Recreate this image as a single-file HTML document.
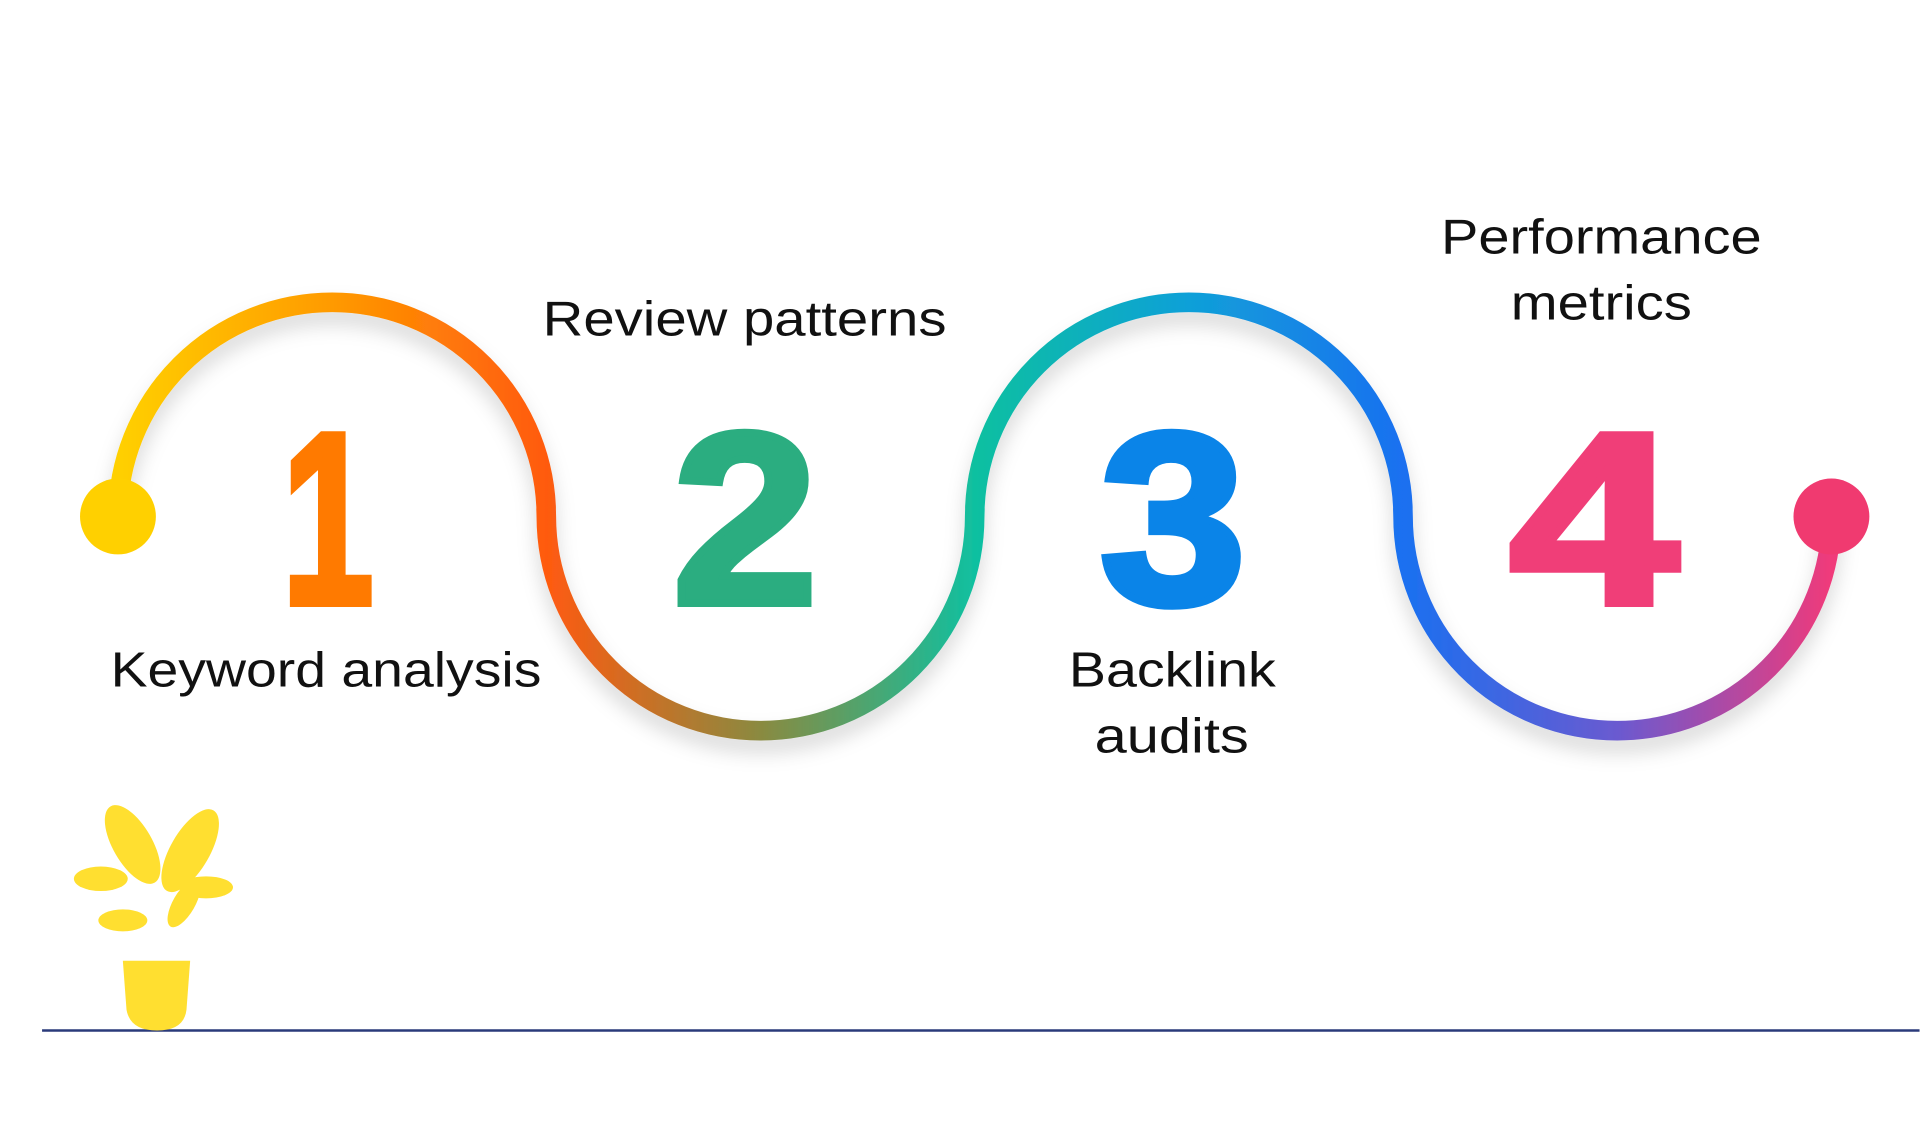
<!DOCTYPE html>
<html><head><meta charset="utf-8"><style>
html,body{margin:0;padding:0;background:#fff;width:1920px;height:1126px;overflow:hidden}
svg{display:block}
.lab{font-family:"Liberation Sans",sans-serif;font-size:40px;fill:#111}
.num{font-family:"Liberation Sans",sans-serif;font-weight:900;font-size:200px}
</style></head><body>
<svg width="1920" height="1126" viewBox="0 0 1568 920" xmlns="http://www.w3.org/2000/svg">
<defs>
<linearGradient id="g" gradientUnits="userSpaceOnUse" x1="96" y1="0" x2="1496" y2="0">
<stop offset="0" stop-color="#ffd000"/>
<stop offset="0.125" stop-color="#ff9a00"/>
<stop offset="0.25" stop-color="#ff5a10"/>
<stop offset="0.375" stop-color="#8a8a40"/>
<stop offset="0.5" stop-color="#10c0a0"/>
<stop offset="0.625" stop-color="#10a0d8"/>
<stop offset="0.75" stop-color="#1a70f0"/>
<stop offset="0.875" stop-color="#6a5ad0"/>
<stop offset="1" stop-color="#f03a7a"/>
</linearGradient>
<filter id="sh" x="-10%" y="-10%" width="120%" height="130%"><feDropShadow dx="0" dy="10" stdDeviation="8" flood-color="#000" flood-opacity="0.15"/></filter>
</defs>
<path d="M96 422 A175 175 0 0 1 446 422 A175 175 0 0 0 796 422 A175 175 0 0 1 1146 422 A175 175 0 0 0 1496 422" fill="none" stroke="url(#g)" stroke-width="16" filter="url(#sh)"/>
<circle cx="96" cy="422" r="31" fill="#ffd000"/>
<circle cx="1496" cy="422" r="31" fill="#f03a70"/>
<g stroke-width="6" stroke-linejoin="miter">
<text class="num" x="230" y="493" textLength="75" lengthAdjust="spacingAndGlyphs" fill="#ff7a00" stroke="#ff7a00">1</text>
<text class="num" x="549" y="493" textLength="119" lengthAdjust="spacingAndGlyphs" fill="#2bad80" stroke="#2bad80">2</text>
<text class="num" x="898" y="493" textLength="120" lengthAdjust="spacingAndGlyphs" fill="#0a84e8" stroke="#0a84e8">3</text>
<text class="num" x="1233" y="493" textLength="138" lengthAdjust="spacingAndGlyphs" fill="#f03e78" stroke="#f03e78">4</text>
</g>
<text class="lab" x="90" y="561" textLength="352" lengthAdjust="spacingAndGlyphs">Keyword analysis</text>
<text class="lab" x="443" y="274" textLength="330" lengthAdjust="spacingAndGlyphs">Review patterns</text>
<text class="lab" x="873" y="561" textLength="169" lengthAdjust="spacingAndGlyphs">Backlink</text>
<text class="lab" x="894" y="615" textLength="126" lengthAdjust="spacingAndGlyphs">audits</text>
<text class="lab" x="1177" y="207" textLength="262" lengthAdjust="spacingAndGlyphs">Performance</text>
<text class="lab" x="1234" y="261" textLength="148" lengthAdjust="spacingAndGlyphs">metrics</text>
<line x1="34" y1="842" x2="1568" y2="842" stroke="#2a3a7a" stroke-width="2"/>
<g fill="#ffdf30">
<path d="M100 785 L155 785 L152 825 Q150 842 128 842 Q106 842 103 825 Z"/>
<ellipse cx="108" cy="690" rx="16" ry="36" transform="rotate(-30 108 690)"/>
<ellipse cx="155" cy="695" rx="16" ry="38" transform="rotate(30 155 695)"/>
<ellipse cx="82" cy="718" rx="22" ry="10"/>
<ellipse cx="168" cy="725" rx="22" ry="9"/>
<ellipse cx="100" cy="752" rx="20" ry="9"/>
<ellipse cx="150" cy="738" rx="9" ry="22" transform="rotate(30 150 738)"/>
</g>
</svg>
</body></html>
